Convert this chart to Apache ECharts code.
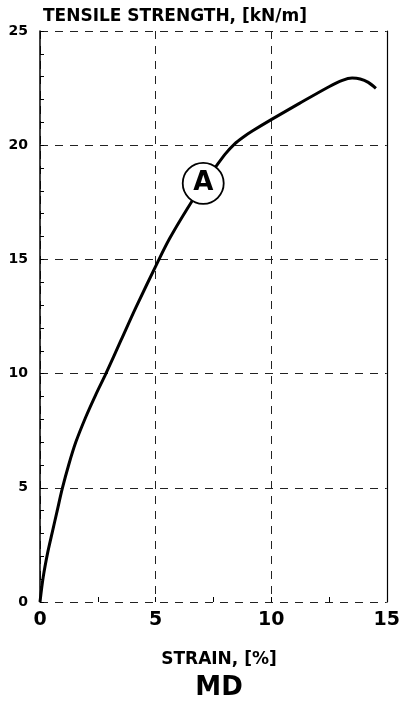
<!DOCTYPE html>
<html><head><meta charset="utf-8">
<script src="https://cdn.jsdelivr.net/npm/echarts@6/dist/echarts.min.js"></script>
<style>html,body{margin:0;padding:0;background:#fff}#c{width:403px;height:704px}</style>
</head><body><div id="c"></div>
<script>
const strain = [0, 0.14, 0.33, 0.53, 0.74, 0.96, 1.24, 1.55, 1.98, 2.4, 2.85, 3.5, 4.15, 5.1, 5.6, 6.33, 7.06, 7.6, 8.0, 8.41, 8.8, 9.2, 10.02, 11.22, 12.5, 13.08, 13.5, 13.85, 14.2, 14.53];
const tensile = [0, 1.1, 2.15, 3.05, 3.98, 4.95, 6.0, 7.0, 8.1, 9.05, 10.0, 11.45, 12.9, 14.9, 15.9, 17.15, 18.3, 19.05, 19.6, 20.05, 20.36, 20.63, 21.13, 21.83, 22.56, 22.84, 22.94, 22.9, 22.75, 22.49];
const xTicks = [0, 5, 10, 15];
const yTicks = [0, 5, 10, 15, 20, 25];
const annotation = {label: 'A', strain: 7.06, value: 18.33};
const yTitle = 'TENSILE STRENGTH, [kN/m]';
const xTitle = 'STRAIN, [%]';
const subTitle = 'MD';

const FONT = 'DejaVu Sans';
const chart = echarts.init(document.getElementById('c'));
const dashed = {show: true, lineStyle: {color: '#222', type: [8, 7], width: 1}};
chart.setOption({
  animation: false,
  backgroundColor: '#fff',
  title: [
    {text: yTitle, left: 38, top: 3, textStyle: {fontFamily: FONT, fontWeight: 'bold', fontSize: 17, color: '#000'}},
    {text: xTitle, left: 214, textAlign: 'center', top: 646, textStyle: {fontFamily: FONT, fontWeight: 'bold', fontSize: 17, color: '#000'}},
    {text: subTitle, left: 214, textAlign: 'center', top: 670, textStyle: {fontFamily: FONT, fontWeight: 'bold', fontSize: 26, color: '#000'}}
  ],
  grid: {left: 40, right: 15, top: 31, bottom: 102, containLabel: false},
  xAxis: {
    type: 'value', min: xTicks[0], max: xTicks[xTicks.length - 1], interval: 5,
    axisLine: {show: false},
    axisTick: {show: true, inside: true, length: 5, lineStyle: {color: '#000'}},
    minorTick: {show: true, splitNumber: 2, length: 5, lineStyle: {color: '#000'}},
    axisLabel: {fontFamily: FONT, fontWeight: 'bold', fontSize: 19, color: '#000', margin: 9,
      customValues: xTicks},
    splitLine: dashed
  },
  yAxis: [{
    type: 'value', min: yTicks[0], max: yTicks[yTicks.length - 1], interval: 5,
    axisLine: {show: true, lineStyle: {color: '#000', width: 1.5}},
    axisTick: {show: true, inside: true, length: 4, lineStyle: {color: '#000'}},
    minorTick: {show: true, splitNumber: 5, length: 4, lineStyle: {color: '#000'}},
    axisLabel: {fontFamily: FONT, fontWeight: 'bold', fontSize: 14, color: '#000', margin: 12},
    splitLine: dashed
  }, {
    type: 'value', position: 'right', min: 0, max: 25, interval: 5,
    axisLine: {show: true, onZero: false, lineStyle: {color: '#000', width: 1.2}},
    axisTick: {show: false}, axisLabel: {show: false}, splitLine: {show: false}
  }],
  series: [{
    type: 'line',
    data: strain.map((s, i) => [s, tensile[i]]),
    smooth: 0.3,
    showSymbol: false,
    lineStyle: {color: '#000', width: 3},
    markPoint: {
      symbol: 'circle', symbolSize: 41,
      itemStyle: {color: '#fff', borderColor: '#000', borderWidth: 1.8},
      label: {show: true, formatter: annotation.label, fontFamily: FONT, fontWeight: 'bold', fontSize: 26, color: '#000'},
      data: [{coord: [annotation.strain, annotation.value]}]
    }
  }]
});
</script></body></html>
